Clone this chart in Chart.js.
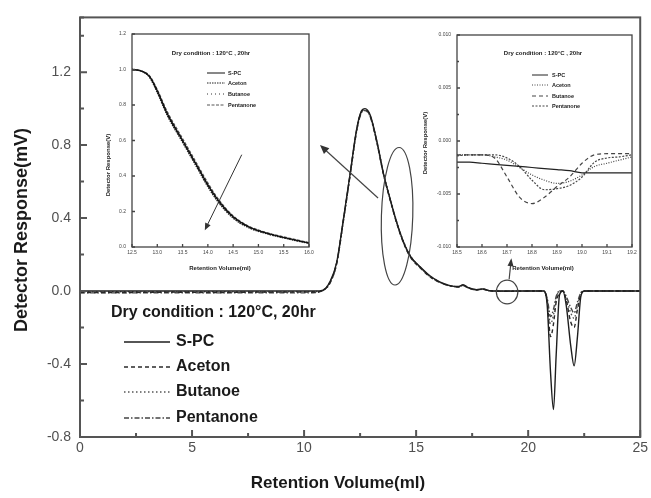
<!DOCTYPE html>
<html>
<head>
<meta charset="utf-8">
<script src="https://cdn.jsdelivr.net/npm/chart.js@4.4.1/dist/chart.umd.min.js"></script>
<style>
  body { margin: 0; background: #fff; }
  #wrap { position: relative; width: 651px; height: 498px; }
  #wrap canvas { position: absolute; }
</style>
</head>
<body>
<div id="wrap">
  <canvas id="mainChart" width="651" height="498" style="left:0;top:0"></canvas>
  <canvas id="insetLeft" width="225" height="255" style="left:100px;top:25px"></canvas>
  <canvas id="insetRight" width="231" height="255" style="left:420px;top:25px"></canvas>
</div>
<script>
// --- data: full chromatogram ---
const seriesNames = ['S-PC', 'Aceton', 'Butanoe', 'Pentanone'];

const mainVolume = [0, 2, 4, 6, 8, 10, 10.5, 10.85, 11.15, 11.45, 11.75, 12.05, 12.35, 12.55, 12.72,
  12.95, 13.25, 13.55, 13.85, 14.15, 14.45, 14.75, 15.2, 15.6, 16.05, 16.5, 16.9, 17.1, 17.3, 17.7,
  18.0, 18.2, 18.5, 19.0, 20.0, 20.7, 20.85, 21.0, 21.13, 21.25, 21.4, 21.55, 21.7, 21.9, 22.05,
  22.2, 22.35, 22.5, 23, 25];
const mainSPC = [0, 0, 0, 0, 0, 0, 0, 0.005, 0.05, 0.155, 0.39, 0.64, 0.89, 0.985, 1.0,
  0.965, 0.82, 0.64, 0.50, 0.37, 0.265, 0.19, 0.13, 0.085, 0.05, 0.03, 0.025, 0.035, 0.02, 0.008,
  0.012, 0.004, 0, 0, 0, 0, -0.08, -0.45, -0.65, -0.35, -0.02, 0, -0.08, -0.30, -0.41,
  -0.25, -0.03, 0, 0, 0];
const mainAceton = [-0.008, -0.008, -0.006, -0.008, -0.006, -0.006, -0.005, 0.004, 0.045, 0.15, 0.385, 0.635, 0.885, 0.98, 0.995,
  0.96, 0.815, 0.635, 0.495, 0.365, 0.26, 0.185, 0.125, 0.08, 0.048, 0.03, 0.022, 0.03, 0.018, 0.006,
  0.01, 0.003, 0, -0.002, 0, 0, -0.06, -0.25, -0.18, -0.06, -0.01, 0, -0.05, -0.17, -0.20,
  -0.10, -0.02, 0, 0, 0];
const mainButanoe = [-0.005, -0.004, -0.005, -0.004, -0.005, -0.004, -0.003, 0.006, 0.048, 0.152, 0.382, 0.632, 0.882, 0.978, 0.992,
  0.958, 0.818, 0.645, 0.505, 0.372, 0.268, 0.192, 0.128, 0.083, 0.05, 0.03, 0.024, 0.033, 0.02, 0.006,
  0.01, 0.003, -0.002, -0.002, 0, 0, -0.05, -0.18, -0.13, -0.04, 0, 0, -0.04, -0.12, -0.15,
  -0.08, -0.01, 0, 0, 0];
const mainPentanone = [-0.01, -0.01, -0.009, -0.01, -0.009, -0.01, -0.008, 0.003, 0.042, 0.148, 0.38, 0.63, 0.88, 0.975, 0.99,
  0.955, 0.812, 0.638, 0.498, 0.368, 0.262, 0.188, 0.127, 0.082, 0.048, 0.028, 0.023, 0.032, 0.019, 0.007,
  0.011, 0.004, 0, -0.001, 0, 0, -0.04, -0.14, -0.10, -0.03, 0, 0, -0.03, -0.09, -0.12,
  -0.06, -0.01, 0, 0, 0];

// --- data: zoom on the peak tail (left inset) ---
const tailVolume = [12.5, 12.7, 12.85, 13.0, 13.2, 13.5, 13.8, 14.0, 14.2, 14.5, 14.8, 15.2, 15.6, 16.0];
const tailSPC = [1.0, 0.99, 0.96, 0.88, 0.75, 0.60, 0.45, 0.35, 0.265, 0.17, 0.115, 0.075, 0.047, 0.022];
const tailAceton = [1.0, 0.99, 0.955, 0.87, 0.74, 0.59, 0.44, 0.34, 0.255, 0.163, 0.11, 0.072, 0.045, 0.02];
const tailButanoe = [1.0, 0.99, 0.957, 0.875, 0.745, 0.595, 0.445, 0.345, 0.26, 0.166, 0.112, 0.073, 0.046, 0.021];
const tailPentanone = [1.0, 0.99, 0.963, 0.885, 0.76, 0.61, 0.46, 0.36, 0.272, 0.175, 0.118, 0.078, 0.05, 0.024];

// --- data: zoom on the baseline near 19 ml (right inset) ---
const baseVolume = [18.50, 18.55, 18.60, 18.65, 18.70, 18.75, 18.80, 18.85, 18.90, 18.95, 19.00, 19.05, 19.10, 19.15, 19.20];
const baseSPC = [-0.0020, -0.0020, -0.0021, -0.0022, -0.0023, -0.0024, -0.0025, -0.0026, -0.0027, -0.0028, -0.0030, -0.0030, -0.0030, -0.0030, -0.0030];
const baseAceton = [-0.0013, -0.0013, -0.0013, -0.0015, -0.0018, -0.0025, -0.0032, -0.0037, -0.0040, -0.0038, -0.0032, -0.0024, -0.0021, -0.0018, -0.0015];
const baseButanoe = [-0.0013, -0.0013, -0.0013, -0.0016, -0.0034, -0.0053, -0.0059, -0.0053, -0.0043, -0.0034, -0.0021, -0.0013, -0.0012, -0.0012, -0.0012];
const basePentanone = [-0.0014, -0.0013, -0.0013, -0.0013, -0.0016, -0.0024, -0.0037, -0.0046, -0.0045, -0.0042, -0.0034, -0.0020, -0.0016, -0.0015, -0.0013];

const conditionText = 'Dry condition : 120\u00B0C, 20hr';
const insetConditionText = 'Dry condition : 120\u00B0C , 20hr';

// line looks
const mainDash = [[], [4, 3], [1.5, 2.5], [5, 2, 1.5, 2]];
const mainColor = ['#1e1e1e', '#2a2a2a', '#555', '#444'];
const tailDash = [[], [1.5, 1], [1, 3], [3, 1.5]];
const baseDash = [[], [1, 1.5], [4, 3], [2, 1.5]];

const FONT = "'Liberation Sans', Arial, sans-serif";

function toPoints(xs, ys) {
    return xs.map((x, i) => ({ x: x, y: ys[i] }));
}

function makeSets(xs, seriesList, dashes, colors, width) {
    return seriesList.map((ys, i) => ({
        label: seriesNames[i],
        data: toPoints(xs, ys),
        borderColor: colors[i],
        borderDash: dashes[i],
        borderWidth: width,
        pointRadius: 0,
        fill: false,
        cubicInterpolationMode: 'monotone'
    }));
}

function drawArrow(ctx, x1, y1, x2, y2, head, wing) {
    const ang = Math.atan2(y2 - y1, x2 - x1);
    ctx.beginPath();
    ctx.moveTo(x1, y1);
    ctx.lineTo(x2 - Math.cos(ang) * head * 0.6, y2 - Math.sin(ang) * head * 0.6);
    ctx.stroke();
    ctx.beginPath();
    ctx.moveTo(x2, y2);
    ctx.lineTo(x2 - head * Math.cos(ang) + wing * Math.sin(ang), y2 - head * Math.sin(ang) - wing * Math.cos(ang));
    ctx.lineTo(x2 - head * Math.cos(ang) - wing * Math.sin(ang), y2 - head * Math.sin(ang) + wing * Math.cos(ang));
    ctx.closePath();
    ctx.fill();
}

function drawKey(ctx, chart, x1, x2, tx, ys, font, lw) {
    chart.data.datasets.forEach((ds, i) => {
        ctx.save();
        ctx.strokeStyle = ds.borderColor;
        ctx.lineWidth = lw;
        ctx.setLineDash(ds.borderDash);
        ctx.beginPath();
        ctx.moveTo(x1, ys[i]);
        ctx.lineTo(x2, ys[i]);
        ctx.stroke();
        ctx.restore();
        ctx.font = font;
        ctx.textAlign = 'left';
        ctx.textBaseline = 'middle';
        ctx.fillText(ds.label, tx, ys[i]);
    });
}

// closed frame with inward tick marks
const boxAxes = {
    id: 'boxAxes',
    afterDraw(chart, args, opts) {
        const { ctx, chartArea: a, scales: { x, y } } = chart;
        ctx.save();
        ctx.strokeStyle = opts.color;
        ctx.lineWidth = opts.width;
        ctx.strokeRect(a.left, a.top, a.right - a.left, a.bottom - a.top);
        ctx.beginPath();
        x.ticks.forEach(t => {
            const px = x.getPixelForValue(t.value);
            const len = t.label === '' ? opts.minor : opts.major;
            ctx.moveTo(px, a.bottom);
            ctx.lineTo(px, a.bottom - len);
        });
        y.ticks.forEach(t => {
            const py = y.getPixelForValue(t.value);
            const len = t.label === '' ? opts.minor : opts.major;
            ctx.moveTo(a.left, py);
            ctx.lineTo(a.left + len, py);
        });
        ctx.stroke();
        ctx.restore();
    }
};

// ellipses, arrows, key and axis titles of the big plot
const mainNotes = {
    id: 'mainNotes',
    afterDraw(chart) {
        const { ctx, scales: { x, y } } = chart;
        const px = v => x.getPixelForValue(v);
        const py = v => y.getPixelForValue(v);
        ctx.save();
        ctx.strokeStyle = '#444';
        ctx.fillStyle = '#333';
        ctx.lineWidth = 1.2;

        // ellipse on the peak tail
        ctx.beginPath();
        ctx.ellipse(px(14.15), py(0.41), px(14.85) - px(14.15), py(0.41) - py(0.787), 0.03, 0, Math.PI * 2);
        ctx.stroke();
        // circle on the baseline near 19 ml
        ctx.beginPath();
        ctx.ellipse(px(19.06), py(-0.005), px(19.54) - px(19.06), py(-0.005) - py(0.06), 0, 0, Math.PI * 2);
        ctx.stroke();

        drawArrow(ctx, px(13.3), py(0.51), px(10.71), py(0.80), 9, 4);
        drawArrow(ctx, px(19.15), py(0.065), px(19.25), py(0.18), 8, 3);

        // key block
        ctx.fillStyle = '#1a1a1a';
        ctx.font = 'bold 16px ' + FONT;
        ctx.textAlign = 'left';
        ctx.textBaseline = 'middle';
        ctx.fillText(conditionText, 111, 313);
        drawKey(ctx, chart, 124, 170, 176, [342, 367, 392, 418], 'bold 16px ' + FONT, 1.3);

        // axis titles
        ctx.font = 'bold 17px ' + FONT;
        ctx.textAlign = 'center';
        ctx.fillText('Retention Volume(ml)', 338, 483);
        ctx.translate(22, 230);
        ctx.rotate(-Math.PI / 2);
        ctx.font = 'bold 18px ' + FONT;
        ctx.fillText('Detector Response(mV)', 0, 0);
        ctx.restore();
    }
};

// condition line, key and axis titles of an inset
const insetNotes = {
    id: 'insetNotes',
    afterDraw(chart, args, o) {
        const { ctx, scales: { x, y } } = chart;
        ctx.save();
        ctx.fillStyle = '#222';
        ctx.strokeStyle = '#333';
        ctx.textAlign = 'center';
        ctx.textBaseline = 'middle';
        ctx.font = 'bold 6px ' + FONT;
        ctx.fillText(insetConditionText, o.titleX, o.titleY);
        drawKey(ctx, chart, o.keyX1, o.keyX2, o.keyTx, o.keyYs, 'bold 5.5px ' + FONT, 1);
        ctx.font = 'bold 6px ' + FONT;
        ctx.textAlign = 'center';
        ctx.fillText('Retention Volume(ml)', o.xTitleX, o.xTitleY);
        if (o.arrow) {
            ctx.lineWidth = 1;
            ctx.fillStyle = '#333';
            const a = o.arrow;
            drawArrow(ctx, x.getPixelForValue(a[0]), y.getPixelForValue(a[1]),
                x.getPixelForValue(a[2]), y.getPixelForValue(a[3]), 7, 3);
        }
        ctx.fillStyle = '#222';
        ctx.translate(o.yTitleX, o.yTitleY);
        ctx.rotate(-Math.PI / 2);
        ctx.fillText('Detector Response(V)', 0, 0);
        ctx.restore();
    }
};

new Chart(document.getElementById('mainChart'), {
    type: 'line',
    data: {
        datasets: makeSets(mainVolume, [mainSPC, mainAceton, mainButanoe, mainPentanone], mainDash, mainColor, 1.4)
    },
    options: {
        responsive: false,
        animation: false,
        layout: { padding: { top: 10, right: 10, left: 0, bottom: 0 } },
        plugins: {
            legend: { display: false },
            tooltip: { enabled: false },
            boxAxes: { color: '#555', width: 2, major: 7, minor: 4 }
        },
        scales: {
            x: {
                type: 'linear', min: 0, max: 25,
                grid: { display: false, drawTicks: false },
                border: { display: false },
                ticks: {
                    stepSize: 2.5, autoSkip: false, maxRotation: 0, padding: 3,
                    color: '#505050', font: { family: FONT, size: 14 },
                    callback: v => (v % 5 === 0 ? String(v) : '')
                },
                afterFit: s => { s.height = 61; }
            },
            y: {
                type: 'linear', min: -0.8, max: 1.5,
                grid: { display: false, drawTicks: false },
                border: { display: false },
                ticks: {
                    stepSize: 0.2, autoSkip: false, padding: 9,
                    color: '#505050', font: { family: FONT, size: 14 },
                    callback: v => (Math.round(v * 10) % 4 === 0 ? v.toFixed(1) : '')
                },
                afterFit: s => { s.width = 80; }
            }
        }
    },
    plugins: [boxAxes, mainNotes]
});

new Chart(document.getElementById('insetLeft'), {
    type: 'line',
    data: {
        datasets: makeSets(tailVolume, [tailSPC, tailAceton, tailButanoe, tailPentanone], tailDash,
            ['#111', '#222', '#333', '#555'], 1.4)
    },
    options: {
        responsive: false,
        animation: false,
        layout: { padding: { top: 9, right: 16, left: 0, bottom: 0 } },
        plugins: {
            legend: { display: false },
            tooltip: { enabled: false },
            boxAxes: { color: '#444', width: 1.3, major: 3, minor: 2 },
            insetNotes: {
                titleX: 111, titleY: 28,
                keyX1: 107, keyX2: 125, keyTx: 128, keyYs: [48, 58, 69, 80],
                xTitleX: 120, xTitleY: 243,
                yTitleX: 8, yTitleY: 140,
                arrow: [14.67, 0.52, 13.94, 0.095]
            }
        },
        scales: {
            x: {
                type: 'linear', min: 12.5, max: 16,
                grid: { display: false, drawTicks: false },
                border: { display: false },
                ticks: {
                    stepSize: 0.5, autoSkip: false, maxRotation: 0, padding: 3,
                    color: '#444', font: { family: FONT, size: 5 },
                    callback: v => v.toFixed(1)
                },
                afterFit: s => { s.height = 33; }
            },
            y: {
                type: 'linear', min: 0, max: 1.2,
                grid: { display: false, drawTicks: false },
                border: { display: false },
                ticks: {
                    stepSize: 0.2, autoSkip: false, padding: 6,
                    color: '#444', font: { family: FONT, size: 5 },
                    callback: v => v.toFixed(1)
                },
                afterFit: s => { s.width = 32; }
            }
        }
    },
    plugins: [boxAxes, insetNotes]
});

new Chart(document.getElementById('insetRight'), {
    type: 'line',
    data: {
        datasets: makeSets(baseVolume, [baseSPC, baseAceton, baseButanoe, basePentanone], baseDash,
            ['#222', '#444', '#444', '#444'], 1.2)
    },
    options: {
        responsive: false,
        animation: false,
        layout: { padding: { top: 10, right: 19, left: 0, bottom: 0 } },
        plugins: {
            legend: { display: false },
            tooltip: { enabled: false },
            boxAxes: { color: '#444', width: 1.3, major: 3, minor: 2 },
            insetNotes: {
                titleX: 123, titleY: 28,
                keyX1: 112, keyX2: 128, keyTx: 132, keyYs: [50, 60, 71, 81],
                xTitleX: 123, xTitleY: 243,
                yTitleX: 5, yTitleY: 118
            }
        },
        scales: {
            x: {
                type: 'linear', min: 18.5, max: 19.2,
                grid: { display: false, drawTicks: false },
                border: { display: false },
                ticks: {
                    stepSize: 0.1, autoSkip: false, maxRotation: 0, padding: 3,
                    color: '#444', font: { family: FONT, size: 5 },
                    callback: v => v.toFixed(1)
                },
                afterFit: s => { s.height = 33; }
            },
            y: {
                type: 'linear', min: -0.01, max: 0.01,
                grid: { display: false, drawTicks: false },
                border: { display: false },
                ticks: {
                    stepSize: 0.0025, autoSkip: false, padding: 6,
                    color: '#444', font: { family: FONT, size: 5 },
                    callback: v => (Math.round(v * 400) % 2 === 0 ? v.toFixed(3) : '')
                },
                afterFit: s => { s.width = 37; }
            }
        }
    },
    plugins: [boxAxes, insetNotes]
});
</script>
</body>
</html>
